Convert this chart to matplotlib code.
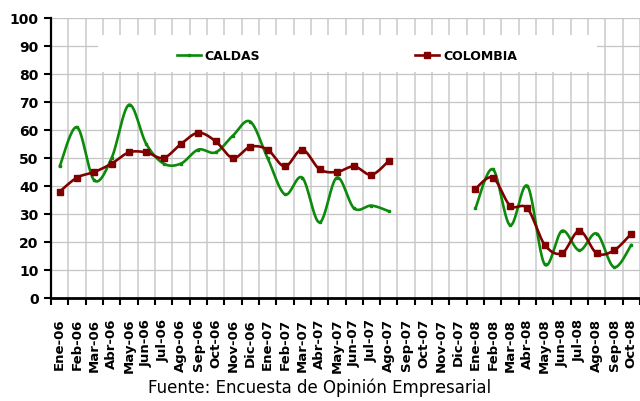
import numpy as np
import matplotlib
matplotlib.use('Agg')
import matplotlib.pyplot as plt
from matplotlib.patches import Rectangle
from matplotlib.lines import Line2D

categories = ['Ene-06', 'Feb-06', 'Mar-06', 'Abr-06', 'May-06', 'Jun-06', 'Jul-06',
              'Ago-06', 'Sep-06', 'Oct-06', 'Nov-06', 'Dic-06', 'Ene-07', 'Feb-07',
              'Mar-07', 'Abr-07', 'May-07', 'Jun-07', 'Jul-07', 'Ago-07', 'Sep-07',
              'Oct-07', 'Nov-07', 'Dic-07', 'Ene-08', 'Feb-08', 'Mar-08', 'Abr-08',
              'May-08', 'Jun-08', 'Jul-08', 'Ago-08', 'Sep-08', 'Oct-08']

caldas = [47, 61, 42, 50, 69, 55, 48, 48, 53, 52, 58, 63, 50, 37, 43, 27, 43, 32, 33, 31,
          None, None, None, None,
          32, 46, 26, 40, 12, 24, 17, 23, 11, 19]
colombia = [38, 43, 45, 48, 52, 52, 50, 55, 59, 56, 50, 54, 53, 47, 53, 46, 45, 47, 44, 49,
            None, None, None, None,
            39, 43, 33, 32, 19, 16, 24, 16, 17, 23]

yticks = list(range(0, 101, 10))
source_text = 'Fuente: Encuesta de Opinión Empresarial'

GREEN = '#0b8a0b'
RED = '#800000'


def runs(values):
    out, cur = [], []
    for i, v in enumerate(values):
        if v is None:
            if cur:
                out.append(cur)
            cur = []
        else:
            cur.append((i, v))
    if cur:
        out.append(cur)
    return out


def smooth_run(run, n=24):
    P = np.array(run, dtype=float)
    m = len(P)
    if m < 2:
        return P[:, 0], P[:, 1]
    xs, ys = [], []
    t = np.linspace(0, 1, n)
    for i in range(m - 1):
        p0 = P[i - 1] if i > 0 else P[i]
        p1 = P[i]
        p2 = P[i + 1]
        p3 = P[i + 2] if i + 2 < m else P[i + 1]
        c1 = p1 + (p2 - p0) / 6.0
        c2 = p2 - (p3 - p1) / 6.0
        b = ((1 - t) ** 3)[:, None] * p1 + (3 * (1 - t) ** 2 * t)[:, None] * c1 \
            + (3 * (1 - t) * t ** 2)[:, None] * c2 + (t ** 3)[:, None] * p2
        if i > 0:
            b = b[1:]
        xs.append(b[:, 0])
        ys.append(b[:, 1])
    return np.concatenate(xs), np.concatenate(ys)


fig = plt.figure(figsize=(6.4, 4.01), dpi=100)
ax = fig.add_axes([51 / 640, 103 / 401, 589 / 640, 280 / 401])

x = np.arange(len(categories))

for series, color, ms, lw in ((caldas, GREEN, 2.0, 1.9), (colombia, RED, 3.8, 1.9)):
    for run in runs(series):
        sx, sy = smooth_run(run)
        ax.plot(sx, sy, color=color, lw=lw, solid_capstyle='round', zorder=3)
        px = [p[0] for p in run]
        py = [p[1] for p in run]
        ax.plot(px, py, linestyle='none', marker='s', ms=ms, color=color,
                mec=color, zorder=4)

ax.set_xlim(-0.5, len(categories) - 0.5)
ax.set_ylim(0, 100)
ax.set_yticks(yticks)
ax.set_yticklabels([str(v) for v in yticks], fontsize=10, fontweight='bold')
ax.set_xticks(x)
ax.set_xticklabels(categories, rotation=90, fontsize=9.5, fontweight='bold',
                   va='top', ha='center')
ax.set_xticks(np.arange(-0.5, len(categories), 1.0), minor=True)
ax.tick_params(axis='x', which='major', length=0, pad=15)
ax.tick_params(axis='x', which='minor', length=5, width=1.5, direction='out')
ax.tick_params(axis='y', length=5, width=1.5, direction='out', pad=4)

ax.set_axisbelow(True)
ax.grid(axis='y', which='major', color='#c4c4c4', lw=0.9)
ax.grid(axis='x', which='minor', color='#d2d2d2', lw=1.3)
ax.grid(axis='x', which='major', visible=False)

for s in ('top', 'right'):
    ax.spines[s].set_visible(False)
ax.spines['left'].set_linewidth(1.6)
ax.spines['bottom'].set_linewidth(2.0)

box = Rectangle((98 / 640, 1 - 72 / 401), 499 / 640, 37 / 401,
                transform=fig.transFigure, facecolor='white', edgecolor='none',
                zorder=1)
ax.add_patch(box)

handles = [Line2D([], [], color=GREEN, lw=1.9, marker='s', ms=2.0),
           Line2D([], [], color=RED, lw=1.9, marker='s', ms=3.8)]
ax.legend(handles, ['CALDAS', 'COLOMBIA'], ncol=2, loc='center',
          bbox_to_anchor=(347 / 640, 1 - 56 / 401), bbox_transform=fig.transFigure,
          frameon=False, handlelength=1.9, handletextpad=0.3, columnspacing=12.4,
          numpoints=1, borderpad=0, prop=dict(weight='bold', size=9))

fig.text(320 / 640, 1 - 388 / 401, source_text, ha='center', va='center', fontsize=12)

fig.savefig('out.png', dpi=100)
